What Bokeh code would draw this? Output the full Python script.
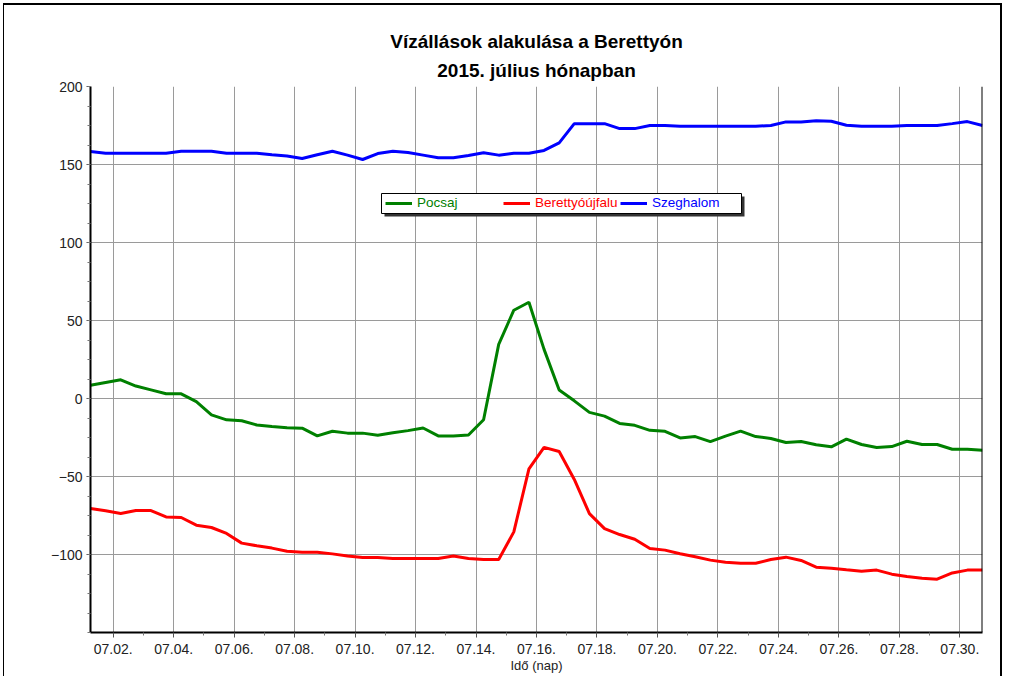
import pandas as pd
from bokeh.plotting import figure
from bokeh.models import (Range1d, FixedTicker, DatetimeTickFormatter, Title, Legend,
                          LegendItem, BoxAnnotation, Span)
from bokeh.embed import file_html
from bokeh.resources import INLINE

# ---- data: water levels (cm), readings every 12 h from 2015-07-01 06:00 ----
start_time = "2015-07-01 06:00"
n_readings = 60

pocsaj = [8.5, 10.3, 12, 8, 5.5, 3, 3, -2, -10.5, -13.7, -14.3, -17, -18, -18.8, -19,
          -24, -21, -22.2, -22.2, -23.5, -22, -20.6, -18.9, -24, -24, -23.4, -13.6, 34.7,
          56.6, 61.7, 31.5, 5.5, -1.5, -8.9, -11.3, -16, -17.2, -20.4, -21, -25.3, -24.4,
          -27.6, -24.1, -20.9, -24.4, -25.6, -28.2, -27.6, -29.7, -31, -26, -29.5, -31.4,
          -30.8, -27.4, -29.5, -29.5, -32.5, -32.5, -33.1]
berettyoujfalu = [-70.5, -72, -73.7, -71.8, -71.8, -75.9, -76.3, -81.2, -82.7, -86.5, -92.7,
                  -94.4, -95.9, -97.9, -98.5, -98.5, -99.6, -100.9, -101.9, -101.9, -102.6,
                  -102.6, -102.6, -102.6, -101, -102.6, -103.2, -103.2, -85.5, -45.1, -31.3,
                  -34, -51.9, -73.8, -83.4, -87.2, -90.2, -96.2, -97.2, -99.5, -101.5, -103.6,
                  -104.9, -105.6, -105.6, -103.2, -101.7, -103.8, -108.1, -108.8, -109.8,
                  -110.7, -110, -112.6, -114.1, -115.2, -115.8, -111.8, -110, -110]
szeghalom = [158.3, 157.2, 157.2, 157.2, 157.2, 157.2, 158.5, 158.5, 158.5, 157.2, 157.2,
             157.2, 156.2, 155.5, 153.8, 156.2, 158.5, 156, 153.2, 157, 158.5, 157.7, 156,
             154.3, 154.3, 155.8, 157.5, 156, 157.2, 157.2, 159, 163.9, 176.2, 176.2, 176.2,
             173, 173, 175, 175, 174.5, 174.5, 174.5, 174.5, 174.5, 174.5, 175, 177.3, 177.3,
             178.1, 177.7, 175.2, 174.5, 174.5, 174.5, 175, 175, 175, 176.2, 177.5, 175]

series_names = ["Pocsaj", "Berettyóújfalu", "Szeghalom"]
series_colors = ["#008000", "#ff0000", "#0000ff"]

major_days = [f"2015-07-{d:02d}" for d in range(2, 31, 2)]
minor_days = [f"2015-07-{d:02d}" for d in range(1, 32, 2)]
y_major = [-100, -50, 0, 50, 100, 150, 200]
y_minor = [-150 + 12.5 * i for i in range(29)]

title_line1 = "Vízállások alakulása a Berettyón"
title_line2 = "2015. július hónapban"
x_label = "Idő (nap)"

times = pd.date_range(start_time, periods=n_readings, freq="12h")

def ms(s):
    return pd.Timestamp(s).timestamp() * 1000

FONT = "Liberation Sans"

p = figure(width=999, height=673, x_axis_type="datetime",
           x_range=Range1d(times[0], times[-1]), y_range=Range1d(-150, 200),
           output_backend="svg", toolbar_location=None,
           min_border_left=86, min_border_right=21, min_border_top=81, min_border_bottom=46)
p.margin = (3, 0, 0, 3)
p.styles = {"border-top": "2px solid black", "border-left": "1px solid black",
            "border-right": "2px solid black"}
p.outline_line_color = None
p.background_fill_color = "white"
p.border_fill_color = "white"

# titles (p.title is outermost, the added one sits next to the frame)
p.title.text = title_line1
p.title.align = "center"
p.title.text_font = FONT
p.title.text_font_size = "19px"
p.title.text_font_style = "bold"
p.title.text_color = "black"
p.title.text_line_height = 1.0
p.title.standoff = 2
p.add_layout(Title(text=title_line2, align="center", text_font=FONT, text_font_size="19px",
                   text_font_style="bold", text_color="black", text_line_height=1.0,
                   standoff=11), "above")

# axes
xa = p.xaxis[0]
xa.ticker = FixedTicker(ticks=[ms(d) for d in major_days], minor_ticks=[ms(d) for d in minor_days])
xa.formatter = DatetimeTickFormatter(days="%m.%d.", hours="%m.%d.", months="%m.%d.",
                                     minutes="%m.%d.", hourmin="%m.%d.")
xa.axis_label = x_label
ya = p.yaxis[0]
ya.ticker = FixedTicker(ticks=y_major, minor_ticks=y_minor)

for ax in (xa, ya):
    ax.axis_line_color = "black"
    ax.axis_line_width = 2
    ax.major_tick_line_color = "#555555"
    ax.minor_tick_line_color = "#777777"
    ax.major_tick_in = 0
    ax.minor_tick_in = 0
    ax.major_label_text_font = FONT
    ax.major_label_text_font_size = "14px"
    ax.major_label_text_color = "#222222"
    ax.axis_label_text_font = FONT
    ax.axis_label_text_font_size = "13px"
    ax.axis_label_text_font_style = "normal"
    ax.axis_label_text_color = "#222222"
xa.major_tick_out = 5
xa.minor_tick_out = 3
xa.major_label_standoff = 6
xa.axis_label_standoff = 1
ya.major_tick_out = 4
ya.minor_tick_out = 3
ya.major_label_standoff = 4

p.xgrid.ticker = FixedTicker(ticks=[ms(d) for d in major_days])
p.ygrid.ticker = FixedTicker(ticks=y_major)
for g in (p.xgrid[0], p.ygrid[0]):
    g.grid_line_color = "#9a9a9a"
    g.grid_line_width = 1

# right frame edge
p.add_layout(Span(location=times[-1], dimension="height", line_color="black", line_width=2))

# lines
renderers = []
for vals, col in zip([pocsaj, berettyoujfalu, szeghalom], series_colors):
    r = p.line(times, vals, line_color=col, line_width=3)
    renderers.append(r)

# legend box with shadow (screen units relative to frame)
p.add_layout(BoxAnnotation(left=294, right=654, top=436, bottom=416,
                           left_units="screen", right_units="screen",
                           top_units="screen", bottom_units="screen",
                           fill_color="#333333", fill_alpha=1, line_color=None))
p.add_layout(BoxAnnotation(left=291, right=651, top=439, bottom=419,
                           left_units="screen", right_units="screen",
                           top_units="screen", bottom_units="screen",
                           fill_color="white", fill_alpha=1, line_color="black",
                           line_width=1, line_alpha=1))

legend_x = [295, 413, 530]
for name, col, r, lx in zip(series_names, series_colors, renderers, legend_x):
    lg = Legend(items=[LegendItem(label=name, renderers=[r])], location=(lx, 422),
                padding=0, margin=0, spacing=0, border_line_color=None,
                background_fill_alpha=0, glyph_width=27, glyph_height=14,
                label_height=14, label_standoff=5, label_text_font=FONT,
                label_text_font_size="13.5px", label_text_color=col)
    p.add_layout(lg, "center")

open("out.html", "w").write(file_html(p, INLINE))
